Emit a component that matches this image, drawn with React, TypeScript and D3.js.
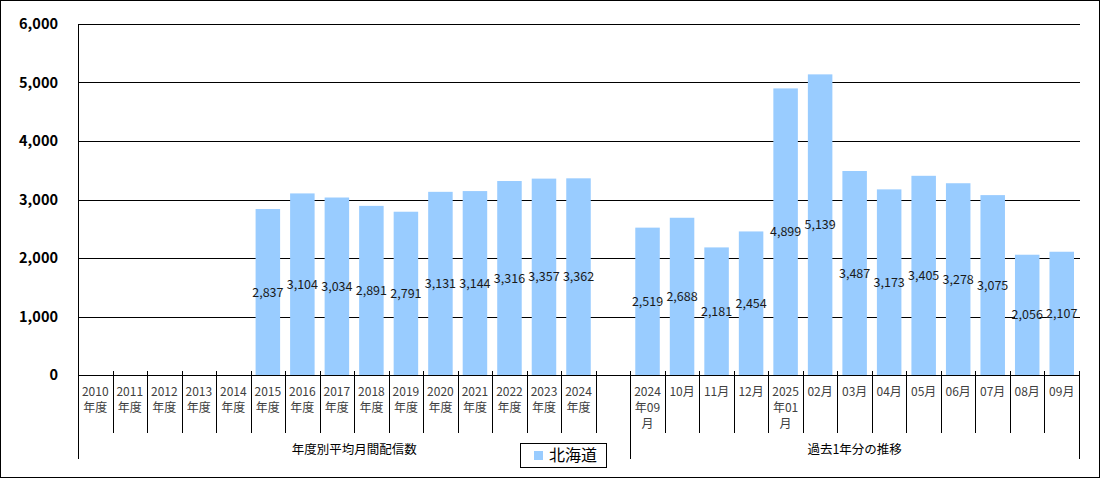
import React from "react";
import * as d3 from "d3";

const yearCategories = ["2010\n年度","2011\n年度","2012\n年度","2013\n年度","2014\n年度","2015\n年度","2016\n年度","2017\n年度","2018\n年度","2019\n年度","2020\n年度","2021\n年度","2022\n年度","2023\n年度","2024\n年度",""];
const yearValues: (number | null)[] = [null,null,null,null,null,2837,3104,3034,2891,2791,3131,3144,3316,3357,3362,null];
const monthCategories = ["2024\n年09\n月","10月","11月","12月","2025\n年01\n月","02月","03月","04月","05月","06月","07月","08月","09月"];
const monthValues: (number | null)[] = [2519,2688,2181,2454,4899,5139,3487,3173,3405,3278,3075,2056,2107];
const groupLabels = ["年度別平均月間配信数","過去1年分の推移"];
const seriesName = "北海道";
const yTicks = [0,1000,2000,3000,4000,5000,6000];

const W = 1101, H = 479;
const L = 78, R = 1079, T = 24, B = 375;
const FONT = "'Noto Sans CJK JP', 'Noto Sans', sans-serif";
const BAR = "#99CCFF";

export default function App() {
  const labels = [...yearCategories, ...monthCategories];
  const values = [...yearValues, ...monthValues];
  const ids = labels.map((_, i) => String(i));
  const x = d3.scaleBand<string>().domain(ids).range([L, R]).paddingInner(0.29).paddingOuter(0.145);
  const y = d3.scaleLinear().domain([0, 6000]).range([B, T]);
  const step = x.step();
  const boundary = (i: number) => L + i * step;
  const fmt = d3.format(",");
  const n = labels.length;
  const groupEdges = [0, yearCategories.length, n];

  return (
    <svg width={W} height={H} style={{ position: "absolute", left: 0, top: 0, background: "#fff" }} fontFamily={FONT}>
      <rect x={0.5} y={0.5} width={W - 2} height={H - 2} fill="#fff" stroke="#000" strokeWidth={1} />
      {yTicks.map(t => (
        <g key={t}>
          {t > 0 && <line x1={L} x2={R + 1} y1={Math.round(y(t)) + 0.5} y2={Math.round(y(t)) + 0.5} stroke="#000" strokeWidth={1} />}
          <text x={58} y={y(t)} dy="0.36em" textAnchor="end" fontSize={14.5} fontWeight="bold" fill="#000">{fmt(t)}</text>
        </g>
      ))}
      {values.map((v, i) => v == null ? null : (
        <rect key={i} x={x(ids[i])!} y={y(v)} width={x.bandwidth()} height={B - y(v)} fill={BAR} />
      ))}
      {values.map((v, i) => v == null ? null : (
        <text key={i} x={x(ids[i])! + x.bandwidth() / 2} y={(y(v) + B) / 2} dy="0.36em" textAnchor="middle" fontSize={12.5} fill="#1a1a1a">{fmt(v)}</text>
      ))}
      <line x1={L} x2={R + 1} y1={B + 0.5} y2={B + 0.5} stroke="#000" strokeWidth={1} />
      {d3.range(n + 1).map(i => {
        const isGroup = groupEdges.includes(i);
        const xx = Math.round(boundary(i)) + 0.5;
        return <line key={i} x1={xx} x2={xx} y1={isGroup ? (i === 0 ? T : 371) : 371} y2={isGroup ? 459 : 433} stroke="#000" strokeWidth={1} />;
      })}
      {labels.map((lab, i) => (
        <text key={i} x={x(ids[i])! + x.bandwidth() / 2} y={392} textAnchor="middle" fontSize={12} fill="#404040">
          {lab.split("\n").map((s, j) => (
            <tspan key={j} x={x(ids[i])! + x.bandwidth() / 2} dy={j === 0 ? "0.36em" : 16}>{s}</tspan>
          ))}
        </text>
      ))}
      {groupLabels.map((g, k) => (
        <text key={g} x={(boundary(groupEdges[k]) + boundary(groupEdges[k + 1])) / 2} y={449} dy="0.36em" textAnchor="middle" fontSize={12.5} fill="#000">{g}</text>
      ))}
      <g>
        <rect x={520.5} y={443.5} width={86} height={24} fill="#fff" stroke="#000" strokeWidth={1} />
        <rect x={534} y={451} width={9} height={9} fill={BAR} />
        <text x={549} y={455.5} dy="0.36em" fontSize={16} fill="#000">{seriesName}</text>
      </g>
    </svg>
  );
}
